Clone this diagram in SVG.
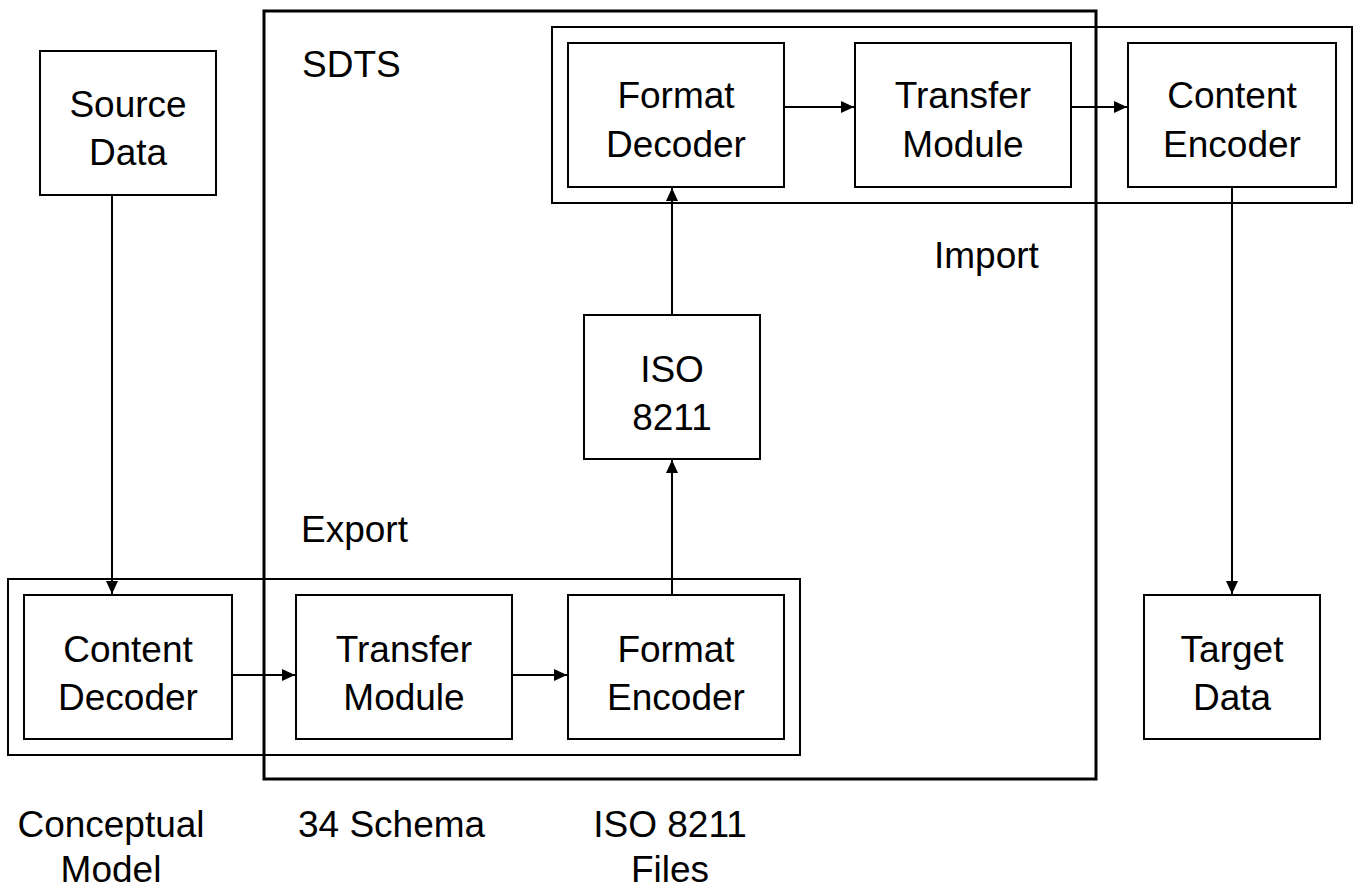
<svg xmlns="http://www.w3.org/2000/svg" width="1359" height="890" viewBox="0 0 1359 890">
<style>
.box{fill:none;stroke:#000;stroke-width:2}
.frame{fill:none;stroke:#000;stroke-width:2}
.sdts{fill:none;stroke:#000;stroke-width:3}
.t{font-family:"Liberation Sans",Arial,sans-serif;font-size:37px;fill:#000}
.c{text-anchor:middle}
.con{fill:none;stroke:#000;stroke-width:2}
</style>
<defs>
<marker id="ah" viewBox="0 0 13 12" refX="13" refY="6" markerWidth="13" markerHeight="12" markerUnits="userSpaceOnUse" orient="auto">
<path d="M0,0 L13,6 L0,12 Z" fill="#000"/>
</marker>
</defs>
<rect fill="#fff" x="0" y="0" width="1359" height="890"/>
<g id="sdts">
<rect class="sdts" x="264" y="11" width="832" height="768"/>
<text class="t" x="302" y="77">SDTS</text>
</g>
<g id="import">
<rect class="frame" x="552" y="27" width="800" height="176"/>
<text class="t" x="934" y="268">Import</text>
</g>
<g id="export">
<rect class="frame" x="8" y="579" width="792" height="176"/>
<text class="t" x="301" y="542">Export</text>
</g>
<g id="source-data">
<rect class="box" x="40" y="51" width="176" height="144"/>
<text class="t c" x="128" y="117">Source</text>
<text class="t c" x="128" y="165">Data</text>
</g>
<g id="format-decoder">
<rect class="box" x="568" y="43" width="216" height="144"/>
<text class="t c" x="676" y="108">Format</text>
<text class="t c" x="676" y="157">Decoder</text>
</g>
<g id="transfer-module-import">
<rect class="box" x="855" y="43" width="216" height="144"/>
<text class="t c" x="963" y="108">Transfer</text>
<text class="t c" x="963" y="157">Module</text>
</g>
<g id="content-encoder">
<rect class="box" x="1128" y="43" width="208" height="144"/>
<text class="t c" x="1232" y="108">Content</text>
<text class="t c" x="1232" y="157">Encoder</text>
</g>
<g id="iso8211">
<rect class="box" x="584" y="315" width="176" height="144"/>
<text class="t c" x="672" y="382">ISO</text>
<text class="t c" x="672" y="430">8211</text>
</g>
<g id="content-decoder">
<rect class="box" x="24" y="595" width="208" height="144"/>
<text class="t c" x="128" y="662">Content</text>
<text class="t c" x="128" y="710">Decoder</text>
</g>
<g id="transfer-module-export">
<rect class="box" x="296" y="595" width="216" height="144"/>
<text class="t c" x="404" y="662">Transfer</text>
<text class="t c" x="404" y="710">Module</text>
</g>
<g id="format-encoder">
<rect class="box" x="568" y="595" width="216" height="144"/>
<text class="t c" x="676" y="662">Format</text>
<text class="t c" x="676" y="710">Encoder</text>
</g>
<g id="target-data">
<rect class="box" x="1144" y="595" width="176" height="144"/>
<text class="t c" x="1232" y="662">Target</text>
<text class="t c" x="1232" y="710">Data</text>
</g>
<g id="labels">
<text class="t c" x="111" y="837">Conceptual</text>
<text class="t c" x="111" y="882">Model</text>
<text class="t" x="298" y="837">34 Schema</text>
<text class="t c" x="670" y="837">ISO 8211</text>
<text class="t c" x="670" y="882">Files</text>
</g>
<g id="connectors">
<line class="con" x1="112" y1="195" x2="112" y2="594" marker-end="url(#ah)"/>
<line class="con" x1="232" y1="675" x2="295" y2="675" marker-end="url(#ah)"/>
<line class="con" x1="512" y1="675" x2="567" y2="675" marker-end="url(#ah)"/>
<line class="con" x1="672" y1="595" x2="672" y2="460" marker-end="url(#ah)"/>
<line class="con" x1="672" y1="315" x2="672" y2="188" marker-end="url(#ah)"/>
<line class="con" x1="784" y1="107" x2="854" y2="107" marker-end="url(#ah)"/>
<line class="con" x1="1071" y1="107" x2="1127" y2="107" marker-end="url(#ah)"/>
<line class="con" x1="1232" y1="187" x2="1232" y2="594" marker-end="url(#ah)"/>
</g>
</svg>
